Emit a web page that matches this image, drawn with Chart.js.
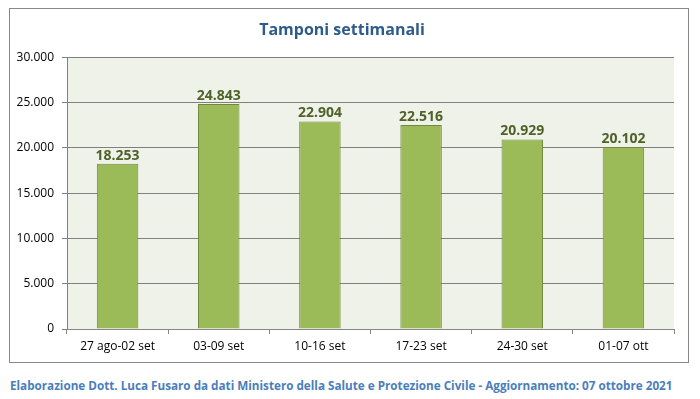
<!DOCTYPE html>
<html>
<head>
<meta charset="utf-8">
<script src="https://cdn.jsdelivr.net/npm/chart.js@4"></script>
<style>
    body { margin: 0; background: #fff; width: 700px; height: 399px; position: relative; font-family: "Open Sans", sans-serif; }
    #box { position: absolute; left: 9px; top: 8px; width: 678px; height: 353px; border: 1px solid #888; }
    #footer { position: absolute; left: 10px; top: 377px; font-size: 11.7px; font-weight: bold; color: #4a7ebb; white-space: nowrap; }
</style>
</head>
<body>
<div id="box"><canvas id="chart" width="678" height="353"></canvas></div>
<div id="footer">Elaborazione Dott. Luca Fusaro da dati Ministero della Salute e Protezione Civile - Aggiornamento: 07 ottobre 2021</div>
<script>
// Chart data
const weeks = ["27 ago-02 set", "03-09 set", "10-16 set", "17-23 set", "24-30 set", "01-07 ott"];
const tamponi = [18253, 24843, 22904, 22516, 20929, 20102];
const yTicks = [0, 5000, 10000, 15000, 20000, 25000, 30000];

const fmt = (v) => String(v).replace(/\B(?=(\d{3})+(?!\d))/g, ".");

// Plot background + value labels
const extras = {
    id: "extras",
    beforeDraw(chart) {
        const { ctx, chartArea: a } = chart;
        ctx.save();
        ctx.fillStyle = "#eff2e9";
        ctx.fillRect(a.left, a.top, a.right - a.left, a.bottom - a.top);
        ctx.restore();
    },
    afterDatasetsDraw(chart) {
        const { ctx } = chart;
        const meta = chart.getDatasetMeta(0);
        ctx.save();
        ctx.font = "bold 14px 'Open Sans'";
        ctx.fillStyle = "#4f6228";
        ctx.textAlign = "center";
        ctx.textBaseline = "alphabetic";
        meta.data.forEach((bar, i) => {
            ctx.fillText(fmt(tamponi[i]), bar.x, bar.y - 4);
        });
        ctx.restore();
    },
};

new Chart(document.getElementById("chart"), {
    type: "bar",
    data: {
        labels: weeks,
        datasets: [
            {
                data: tamponi,
                backgroundColor: "#9bbb59",
                borderColor: "#71893f",
                borderWidth: 1,
                barPercentage: 0.41,
                categoryPercentage: 1,
            },
        ],
    },
    options: {
        responsive: false,
        animation: false,
        layout: { padding: { left: 0, right: 14, top: 0, bottom: 0 } },
        plugins: {
            legend: { display: false },
            tooltip: { enabled: false },
            title: {
                display: true,
                text: "Tamponi settimanali",
                color: "#2e5c8a",
                font: { family: "'Open Sans'", size: 16, weight: "bold" },
                padding: { top: 12, bottom: 17 },
            },
        },
        scales: {
            x: {
                grid: { display: true, drawOnChartArea: false, offset: true, color: "#868686", tickLength: 5 },
                border: { color: "#868686" },
                ticks: { color: "#000", font: { family: "'Open Sans'", size: 12 }, padding: 5, maxRotation: 0 },
                afterFit: (s) => { s.height = 33; },
            },
            y: {
                min: 0,
                max: 30000,
                afterBuildTicks: (s) => { s.ticks = yTicks.map((v) => ({ value: v })); },
                grid: { color: "#808080", tickLength: 5 },
                border: { color: "#808080" },
                ticks: { color: "#000", font: { family: "'Open Sans'", size: 12 }, padding: 8, callback: (v) => fmt(v) },
                afterFit: (s) => { s.width = 57; },
            },
        },
    },
    plugins: [extras],
});
</script>
</body>
</html>
